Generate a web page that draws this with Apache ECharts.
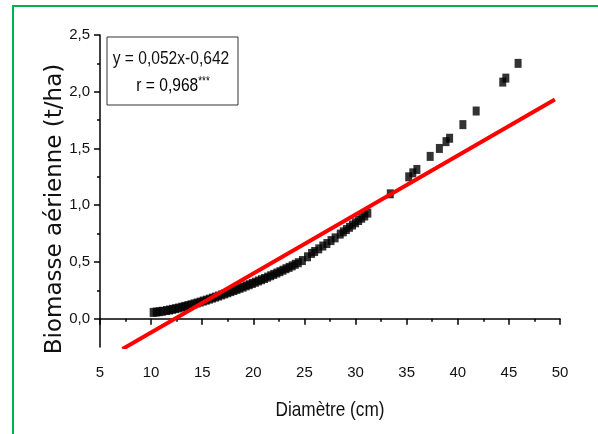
<!DOCTYPE html>
<html>
<head>
<meta charset="utf-8">
<script src="https://cdn.jsdelivr.net/npm/echarts@6/dist/echarts.min.js"></script>
<style>
  html, body { margin: 0; padding: 0; background: #fff; }
  #main { width: 598px; height: 434px; }
</style>
</head>
<body>
<div id="main"></div>
<script>
// diamètre (cm) / biomasse aérienne (t/ha)
const diam = [
  10.2, 10.5, 10.8, 11.1, 11.5, 11.8, 12.1, 12.4, 12.7, 13.0,
  13.3, 13.6, 13.9, 14.2, 14.5, 14.8, 15.1, 15.4, 15.7, 16.0,
  16.3, 16.6, 16.9, 17.2, 17.5, 17.8, 18.1, 18.4, 18.7, 19.0,
  19.3, 19.6, 19.9, 20.2, 20.5, 20.8, 21.1, 21.4, 21.7, 22.0,
  22.3, 22.6, 22.9, 23.2, 23.5, 23.8, 24.1, 24.4, 24.8, 25.3,
  25.7, 26.0, 26.4, 26.8, 27.2, 27.6, 28.0, 28.5, 28.8, 29.1,
  29.4, 29.7, 30.0, 30.3, 30.6, 30.9, 31.2,
  33.4, 35.2, 35.6, 36.0, 37.3, 38.2, 38.85, 39.2, 40.5, 41.8,
  44.4, 44.7, 45.9
];
const biomass = [
  0.055, 0.058, 0.061, 0.065, 0.071, 0.076, 0.082, 0.088, 0.094, 0.101,
  0.108, 0.115, 0.122, 0.130, 0.138, 0.146, 0.155, 0.163, 0.172, 0.181,
  0.190, 0.199, 0.209, 0.218, 0.228, 0.238, 0.248, 0.258, 0.268, 0.278,
  0.289, 0.299, 0.310, 0.321, 0.332, 0.343, 0.354, 0.366, 0.378, 0.390,
  0.402, 0.414, 0.427, 0.440, 0.452, 0.465, 0.479, 0.493, 0.512, 0.545,
  0.575, 0.592, 0.615, 0.640, 0.662, 0.688, 0.712, 0.745, 0.765, 0.785,
  0.805, 0.825, 0.845, 0.865, 0.885, 0.905, 0.930,
  1.10, 1.25, 1.285, 1.315, 1.43, 1.50, 1.56, 1.59, 1.71, 1.83,
  2.085, 2.12, 2.25
];

// regression line y = 0,052x - 0,642
const fitSlope = 0.052;
const fitIntercept = -0.642;
const fitX = [7.2, 49.5];

const xTicks = [5, 10, 15, 20, 25, 30, 35, 40, 45, 50];
const yTicks = [0, 0.5, 1, 1.5, 2, 2.5];
const yMinorTicks = [0.25, 0.75, 1.25, 1.75, 2.25];

const sans = "'Liberation Sans', Arial, sans-serif";
// narrow look: regular font squeezed horizontally
const squeeze = 0.82;

const chart = echarts.init(document.getElementById('main'));

const points = diam.map((d, i) => [d, biomass[i]]);
const fitLine = fitX.map(x => [x, fitSlope * x + fitIntercept]);

const option = {
  animation: false,
  grid: { left: 100, top: 35, right: 38, bottom: 87 },
  xAxis: {
    type: 'value',
    min: xTicks[0],
    max: xTicks[xTicks.length - 1],
    interval: 5,
    axisLine: { lineStyle: { color: '#000', width: 1.5 } },
    axisTick: { length: 6, lineStyle: { color: '#000', width: 1.5 } },
    minorTick: { show: true, splitNumber: 2, length: 3, lineStyle: { color: '#000', width: 1.5 } },
    axisLabel: { margin: 18, fontFamily: sans, fontSize: 15, color: '#111' },
    splitLine: { show: false }
  },
  yAxis: [
    {
      type: 'value',
      min: -0.25,
      max: 2.5,
      axisLine: { show: true, lineStyle: { color: '#000', width: 1.5 } },
      axisTick: { show: true, length: 6, customValues: yTicks, lineStyle: { color: '#000', width: 1.5 } },
      axisLabel: {
        margin: 10,
        customValues: yTicks,
        fontFamily: sans,
        fontSize: 15,
        color: '#111',
        formatter: v => v.toFixed(1).replace('.', ',')
      },
      splitLine: { show: false }
    },
    {
      type: 'value',
      min: -0.25,
      max: 2.5,
      position: 'left',
      axisLine: { show: false },
      axisTick: { show: true, length: 3, customValues: yMinorTicks, lineStyle: { color: '#000', width: 1.5 } },
      axisLabel: { show: false },
      splitLine: { show: false }
    }
  ],
  graphic: [
    {
      type: 'rect',
      silent: true,
      shape: { x: 13, y: 6, width: 620, height: 460 },
      style: { fill: 'none', stroke: '#00b050', lineWidth: 2 }
    },
    {
      type: 'text',
      x: 55,
      y: 209,
      rotation: Math.PI / 2,
      style: {
        text: 'Biomasse aérienne (t/ha)',
        font: "23px 'DejaVu Sans', sans-serif",
        fill: '#111',
        align: 'center',
        verticalAlign: 'middle'
      }
    },
    {
      type: 'text',
      x: 330,
      y: 410,
      scaleX: squeeze,
      style: {
        text: 'Diamètre (cm)',
        font: '21px ' + sans,
        fill: '#111',
        align: 'center',
        verticalAlign: 'middle'
      }
    },
    {
      type: 'rect',
      z: 10,
      shape: { x: 107, y: 37, width: 131, height: 68 },
      style: { fill: '#fff', stroke: '#333', lineWidth: 1 }
    },
    {
      type: 'text',
      z: 11,
      x: 171,
      y: 59,
      scaleX: squeeze,
      style: {
        text: 'y = 0,052x-0,642',
        font: '19px ' + sans,
        fill: '#111',
        align: 'center',
        verticalAlign: 'middle'
      }
    },
    {
      type: 'text',
      z: 11,
      x: 173,
      y: 86,
      scaleX: squeeze,
      style: {
        text: '{a|r = 0,968}{s|***}',
        align: 'center',
        verticalAlign: 'middle',
        rich: {
          a: { fontFamily: sans, fontSize: 19, color: '#111', lineHeight: 20 },
          s: { fontFamily: sans, fontSize: 12, color: '#111', verticalAlign: 'top', lineHeight: 20 }
        }
      }
    }
  ],
  series: [
    {
      type: 'scatter',
      data: points,
      symbol: 'rect',
      symbolSize: [7, 9],
      itemStyle: { color: '#000' },
      z: 2
    },
    {
      type: 'line',
      data: fitLine,
      showSymbol: false,
      symbol: 'none',
      clip: true,
      lineStyle: { color: '#ff0000', width: 4 },
      z: 3
    }
  ]
};

chart.setOption(option);
</script>
</body>
</html>
